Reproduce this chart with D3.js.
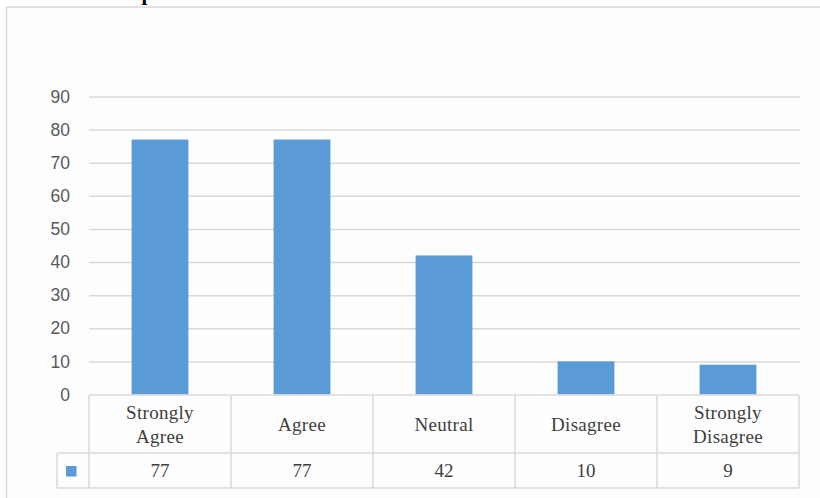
<!DOCTYPE html>
<html>
<head>
<meta charset="utf-8">
<script src="https://cdn.jsdelivr.net/npm/d3@7"></script>
<style>
  html, body { margin: 0; padding: 0; background: #ffffff; }
  svg { display: block; }
</style>
</head>
<body>
<div id="chart"></div>
<script>
// data
const categories = [["Strongly", "Agree"], ["Agree"], ["Neutral"], ["Disagree"], ["Strongly", "Disagree"]];
const values = [77, 77, 42, 10, 9];
const yTicks = [0, 10, 20, 30, 40, 50, 60, 70, 80, 90];
const title = "Graph Test of the Effect of Tweets to the Current Trends";

const W = 820, H = 498;
const gridColor = '#d9d9d9';
const barColor = '#5b9bd5';

const svg = d3.select('#chart').append('svg')
  .attr('width', W)
  .attr('height', H);

// clipped title (only the bottom of the glyphs shows)
svg.append('text')
  .attr('x', 427)
  .attr('y', 0)
  .attr('text-anchor', 'middle')
  .attr('textLength', 660)
  .attr('lengthAdjust', 'spacing')
  .style('font-family', '"Liberation Serif", serif')
  .style('font-weight', 'bold')
  .style('font-size', '21px')
  .style('fill', '#000')
  .text(title);

// chart frame
svg.append('rect')
  .attr('x', 6.5)
  .attr('y', 7)
  .attr('width', W)
  .attr('height', H)
  .style('fill', '#fdfdfd')
  .style('stroke', gridColor)
  .style('stroke-width', 1.5);

const left = 89, right = 799;
const x = d3.scaleBand()
  .domain(d3.range(categories.length))
  .range([left, right])
  .paddingInner(0.6)
  .paddingOuter(0.3);

const y = d3.scaleLinear()
  .domain([0, 90])
  .range([394.5, 96.5]);

// gridlines
const grid = d3.axisLeft(y)
  .tickValues(yTicks.filter(d => d > 0))
  .tickSize(-(right + 1 - left))
  .tickFormat(() => '');

const gg = svg.append('g')
  .attr('transform', `translate(${left},0)`)
  .call(grid);
gg.select('.domain').remove();
gg.selectAll('.tick line')
  .attr('stroke', gridColor)
  .attr('stroke-width', 1.5);

// y labels
svg.append('g')
  .selectAll('text')
  .data(yTicks)
  .join('text')
  .attr('x', 70)
  .attr('y', d => y(d))
  .attr('dy', '0.35em')
  .attr('text-anchor', 'end')
  .style('font-family', '"Liberation Sans", sans-serif')
  .style('font-size', '17.5px')
  .style('fill', '#595959')
  .text(d => d);

// bars
svg.append('g')
  .selectAll('rect')
  .data(values)
  .join('rect')
  .attr('x', (d, i) => x(i))
  .attr('y', d => y(d))
  .attr('width', x.bandwidth())
  .attr('height', d => y(0) - y(d))
  .style('fill', barColor);

// data table
const rowTop = 395, rowMid = 453, rowBot = 488, legLeft = 57;
const step = x.step();
const colEdges = d3.range(categories.length + 1).map(i => left + i * step);
const table = svg.append('g')
  .style('stroke', gridColor)
  .style('stroke-width', 1.5)
  .style('fill', 'none');

table.append('line').attr('x1', left).attr('x2', right).attr('y1', rowTop).attr('y2', rowTop);
table.append('line').attr('x1', legLeft).attr('x2', right).attr('y1', rowMid).attr('y2', rowMid);
table.append('line').attr('x1', legLeft).attr('x2', right).attr('y1', rowBot).attr('y2', rowBot);
table.append('line').attr('x1', legLeft).attr('x2', legLeft).attr('y1', rowMid).attr('y2', rowBot);
table.selectAll('.col')
  .data(colEdges)
  .join('line')
  .attr('x1', d => d).attr('x2', d => d)
  .attr('y1', rowTop).attr('y2', rowBot);

const serif = '"Liberation Serif", "Times New Roman", serif';

// category labels
const cat = svg.append('g')
  .selectAll('text')
  .data(categories)
  .join('text')
  .attr('x', (d, i) => x(i) + x.bandwidth() / 2)
  .attr('text-anchor', 'middle')
  .style('font-family', serif)
  .style('font-size', '19px')
  .style('letter-spacing', '0.3px')
  .style('fill', '#404040');

cat.each(function (lines) {
  const t = d3.select(this);
  const mid = (rowTop + rowMid) / 2;
  const lh = 24;
  lines.forEach((s, k) => {
    t.append('tspan')
      .attr('x', t.attr('x'))
      .attr('y', mid + (k - (lines.length - 1) / 2) * lh)
      .attr('dy', '0.35em')
      .text(s);
  });
});

// values row
svg.append('g')
  .selectAll('text')
  .data(values)
  .join('text')
  .attr('x', (d, i) => x(i) + x.bandwidth() / 2)
  .attr('y', (rowMid + rowBot) / 2)
  .attr('dy', '0.35em')
  .attr('text-anchor', 'middle')
  .style('font-family', serif)
  .style('font-size', '19px')
  .style('fill', '#404040')
  .text(d => d);

// legend key
svg.append('rect')
  .attr('x', 66)
  .attr('y', 466)
  .attr('width', 10.5)
  .attr('height', 10.5)
  .style('fill', barColor);
</script>
</body>
</html>
